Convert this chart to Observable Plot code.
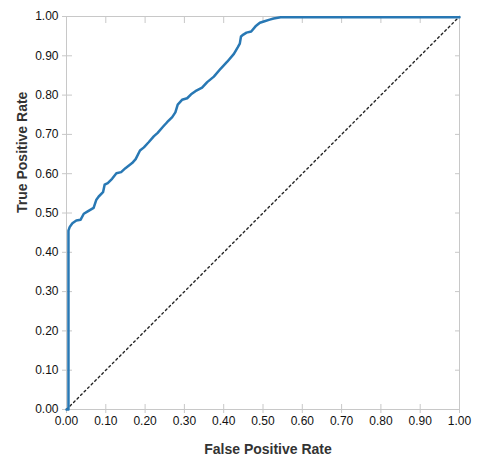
<!DOCTYPE html>
<html>
<head>
<meta charset="utf-8">
<script src="https://cdn.jsdelivr.net/npm/d3@7"></script>
<script src="https://cdn.jsdelivr.net/npm/@observablehq/plot@0.6"></script>
<style>
  body { margin: 0; background: #fff; }
  #chart svg { font-family: "Liberation Sans", Arial, Helvetica, sans-serif; }
</style>
</head>
<body>
<div id="chart"></div>
<script>
const fpr = [0, 0.005, 0.005, 0.008, 0.015, 0.025, 0.036, 0.044, 0.054, 0.069, 0.076, 0.082, 0.093, 0.097, 0.105, 0.116, 0.127, 0.139, 0.150, 0.167, 0.176, 0.187, 0.197, 0.209, 0.222, 0.232, 0.246, 0.256, 0.269, 0.277, 0.283, 0.294, 0.307, 0.317, 0.328, 0.345, 0.358, 0.375, 0.392, 0.409, 0.426, 0.436, 0.441, 0.444, 0.450, 0.458, 0.470, 0.481, 0.492, 0.504, 0.517, 0.527, 0.545, 1.0];
const tpr = [0, 0, 0.455, 0.464, 0.474, 0.481, 0.483, 0.498, 0.504, 0.513, 0.534, 0.542, 0.553, 0.572, 0.576, 0.587, 0.601, 0.604, 0.614, 0.627, 0.637, 0.659, 0.667, 0.680, 0.695, 0.704, 0.720, 0.731, 0.744, 0.756, 0.776, 0.788, 0.792, 0.802, 0.810, 0.819, 0.833, 0.847, 0.867, 0.885, 0.905, 0.922, 0.931, 0.949, 0.954, 0.959, 0.962, 0.975, 0.984, 0.988, 0.992, 0.995, 0.998, 0.998];
const diagX = [0, 1];
const diagY = [0, 1];
const tickValues = [0, 0.1, 0.2, 0.3, 0.4, 0.5, 0.6, 0.7, 0.8, 0.9, 1.0];
const xTitle = "False Positive Rate";
const yTitle = "True Positive Rate";

const roc = fpr.map((x, i) => ({x, y: tpr[i]}));
const diag = diagX.map((x, i) => ({x, y: diagY[i]}));
const fmt = d3.format(".2f");
const gray = "#c8c8c8";

const chart = Plot.plot({
  width: 498,
  height: 462,
  marginLeft: 66,
  marginRight: 39,
  marginTop: 16,
  marginBottom: 53,
  style: {fontSize: "12px", color: "#111"},
  x: {domain: [0, 1]},
  y: {domain: [0, 1]},
  marks: [
    Plot.frame({stroke: gray}),
    Plot.axisX(tickValues, {anchor: "bottom", tickSize: 4, tickPadding: 3, tickFormat: fmt, stroke: gray, fill: "#111", label: null}),
    Plot.axisX(tickValues, {anchor: "bottom", tickSize: -5, tickFormat: () => "", stroke: gray, label: null}),
    Plot.axisX(tickValues, {anchor: "top", tickSize: -6, tickFormat: () => "", stroke: gray, label: null}),
    Plot.axisY(tickValues, {anchor: "left", tickSize: 4, tickPadding: 4, tickFormat: fmt, stroke: gray, fill: "#111", label: null}),
    Plot.axisY(tickValues, {anchor: "left", tickSize: -6, tickFormat: () => "", stroke: gray, label: null}),
    Plot.axisY(tickValues, {anchor: "right", tickSize: -5, tickFormat: () => "", stroke: gray, label: null}),
    Plot.text([xTitle], {frameAnchor: "bottom", dy: 44, dx: 5, fontSize: 14, fontWeight: "bold", fill: "#333"}),
    Plot.text([yTitle], {frameAnchor: "left", dx: -44, rotate: -90, fontSize: 14, fontWeight: "bold", fill: "#333"}),
    Plot.line(diag, {x: "x", y: "y", stroke: "#222", strokeWidth: 1.4, strokeDasharray: "2,3"}),
    Plot.line(roc, {x: "x", y: "y", stroke: "#2878b4", strokeWidth: 2.5, strokeLinejoin: "round"})
  ]
});
document.getElementById("chart").appendChild(chart);
</script>
</body>
</html>
